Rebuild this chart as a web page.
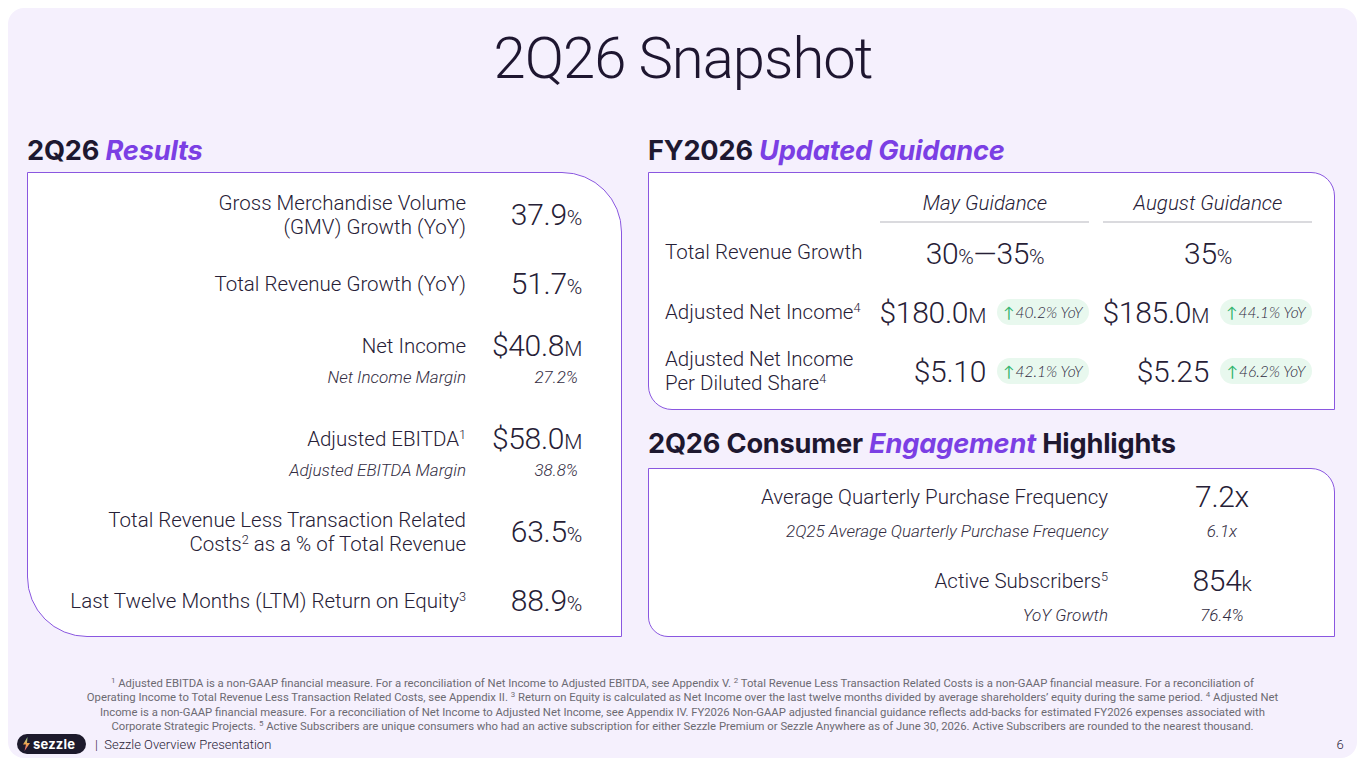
<!DOCTYPE html>
<html>
<head>
<meta charset="utf-8">
<script src="https://cdn.jsdelivr.net/npm/chart.js@4.4.1/dist/chart.umd.min.js"></script>
<style>
  html,body{margin:0;padding:0;background:#ffffff;}
  body{width:1365px;height:768px;position:relative;overflow:hidden;font-family:Roboto,"Noto Sans",sans-serif;color:#2a2438;}
  #card{position:absolute;left:8px;top:8px;width:1349px;height:750px;background:#F5F0FD;border-radius:16px;}
  .box{position:absolute;background:#ffffff;border:1.5px solid #8A57E0;box-sizing:border-box;}
  .t{position:absolute;white-space:nowrap;line-height:1;}
  .lab{font-size:20.5px;font-weight:300;color:#262036;}
  .val{font-size:30px;font-weight:300;color:#262036;letter-spacing:-0.3px;}
  .val small{font-size:21px;}
  .sub{font-size:17px;font-weight:300;font-style:italic;color:#332d42;}
  .subv{font-size:17px;font-weight:300;font-style:italic;color:#332d42;}
  .head{font-family:Inter,"Noto Sans",sans-serif;font-weight:700;font-size:27.2px;color:#1e1830;letter-spacing:-0.2px;}
  .head em{color:#7B3FE4;font-style:italic;}
  sup{font-size:0.62em;line-height:0;vertical-align:0.55em;}
  .badge{position:absolute;background:#E8F8EE;border-radius:13px;height:26px;width:92px;box-sizing:border-box;
         font-family:Lato,"Noto Sans",sans-serif;font-style:italic;font-weight:300;font-size:15.5px;color:#2e2840;
         display:flex;align-items:center;justify-content:center;transform:translateY(-50%);}
  .badge b{color:#2FB36B;font-style:normal;font-weight:400;margin-right:1px;font-size:15px;}
  .rule{position:absolute;height:1.5px;background:#DADADE;}
  .foot{position:absolute;left:0;width:1365px;text-align:center;font-size:11.3px;color:#6c6a72;line-height:14.4px;top:677px;}
  .foot sup{font-size:0.7em;}
</style>
</head>
<body>
<div id="card"></div>
<div id="layer"></div>
<script>
// ---------- DATA ----------
const title = "2Q26 Snapshot";

const resultsLabels = [
  ["Gross Merchandise Volume", "(GMV) Growth (YoY)"],
  ["Total Revenue Growth (YoY)"],
  ["Net Income"],
  ["Adjusted EBITDA<sup>1</sup>"],
  ["Total Revenue Less Transaction Related", "Costs<sup>2</sup> as a % of Total Revenue"],
  ["Last Twelve Months (LTM) Return on Equity<sup>3</sup>"]
];
const resultsValues = ["37.9", "51.7", "$40.8", "$58.0", "63.5", "88.9"];
const resultsUnits  = ["%", "%", "M", "M", "%", "%"];
const resultsSubLabels = [null, null, "Net Income Margin", "Adjusted EBITDA Margin", null, null];
const resultsSubValues = [null, null, "27.2%", "38.8%", null, null];

const guidanceColumns = ["May Guidance", "August Guidance"];
const guidanceRows = [
  ["Total Revenue Growth"],
  ["Adjusted Net Income<sup>4</sup>"],
  ["Adjusted Net Income", "Per Diluted Share<sup>4</sup>"]
];
const mayValues    = ["30<small>%</small>\u201435<small>%</small>", "$180.0<small>M</small>", "$5.10"];
const augustValues = ["35<small>%</small>", "$185.0<small>M</small>", "$5.25"];
const mayYoY    = [null, "40.2% YoY", "42.1% YoY"];
const augustYoY = [null, "44.1% YoY", "46.2% YoY"];

const engagementLabels = ["Average Quarterly Purchase Frequency", "Active Subscribers<sup>5</sup>"];
const engagementValues = ["7.2x", "854<small>k</small>"];
const engagementSubLabels = ["2Q25 Average Quarterly Purchase Frequency", "YoY Growth"];
const engagementSubValues = ["6.1x", "76.4%"];

const footnoteLines = [
  "<sup>1</sup> Adjusted EBITDA is a non-GAAP financial measure. For a reconciliation of Net Income to Adjusted EBITDA, see Appendix V. <sup>2</sup> Total Revenue Less Transaction Related Costs is a non-GAAP financial measure. For a reconciliation of",
  "Operating Income to Total Revenue Less Transaction Related Costs, see Appendix II. <sup>3</sup> Return on Equity is calculated as Net Income over the last twelve months divided by average shareholders\u2019 equity during the same period. <sup>4</sup> Adjusted Net",
  "Income is a non-GAAP financial measure. For a reconciliation of Net Income to Adjusted Net Income, see Appendix IV. FY2026 Non-GAAP adjusted financial guidance reflects add-backs for estimated FY2026 expenses associated with",
  "Corporate Strategic Projects. <sup>5</sup> Active Subscribers are unique consumers who had an active subscription for either Sezzle Premium or Sezzle Anywhere as of June 30, 2026. Active Subscribers are rounded to the nearest thousand."
];
const footerText = "Sezzle Overview Presentation";
const pageNumber = "6";

// ---------- LAYOUT ----------
const layer = document.getElementById('layer');
function el(tag, cls, html, style){
  const e = document.createElement(tag);
  if (cls) e.className = cls;
  if (html != null) e.innerHTML = html;
  Object.assign(e.style, style || {});
  layer.appendChild(e);
  return e;
}
// place text: anchor 'r' (right), 'l' (left), 'c' (center); y = vertical center
function txt(cls, html, x, y, anchor){
  const s = {top: y + 'px'};
  let tx = '0';
  if (anchor === 'r') { s.right = (1365 - x) + 'px'; }
  else if (anchor === 'c') { s.left = x + 'px'; tx = '-50%'; }
  else { s.left = x + 'px'; }
  s.transform = 'translate(' + tx + ',-50%)';
  return el('div', 't ' + cls, html, s);
}
function box(x, y, w, h, radii){
  el('div', 'box', null, {left:x+'px', top:y+'px', width:w+'px', height:h+'px', borderRadius:radii});
}

// Title
txt('', title, 683, 58, 'c').style.cssText += 'font-size:58px;font-weight:300;color:#1e1630;letter-spacing:-1px;';

// Section headings
txt('head', '2Q26 <em>Results</em>', 27, 151, 'l');
txt('head', 'FY2026 <em>Updated Guidance</em>', 648, 151, 'l');
txt('head', '2Q26 Consumer <em>Engagement</em> Highlights', 648, 444, 'l');

// Boxes
box(27, 172, 595, 465, '0 60px 0 60px');
box(648, 172, 687, 238, '0 24px 0 24px');
box(648, 468, 687, 169, '0 24px 0 20px');

// Results box
const resLabelX = 466, resValX = 582;
const resRowY = [215, 284, 346, 439, 532, 601];
const resSubY = [null, null, 377, 470, null, null];
resultsLabels.forEach((lines, i) => {
  const y = resRowY[i];
  const n = lines.length;
  lines.forEach((ln, j) => {
    txt('lab', ln, resLabelX, y + (j - (n - 1) / 2) * 24, 'r');
  });
  txt('val', resultsValues[i] + '<small>' + resultsUnits[i] + '</small>', resValX, y, 'r');
  if (resultsSubLabels[i]) {
    txt('sub', resultsSubLabels[i], resLabelX, resSubY[i], 'r');
    txt('subv', resultsSubValues[i], resValX - 4, resSubY[i], 'r');
  }
});

// Guidance box
const colCenters = [985, 1208];
const colRule = [[880, 1089], [1103, 1312]];
guidanceColumns.forEach((c, i) => {
  txt('lab', c, colCenters[i], 203, 'c').style.fontStyle = 'italic';
  el('div', 'rule', null, {left: colRule[i][0]+'px', top:'221px', width:(colRule[i][1]-colRule[i][0])+'px'});
});
const gRowY = [252, 312, 371];
guidanceRows.forEach((lines, i) => {
  const y = gRowY[i];
  const n = lines.length;
  lines.forEach((ln, j) => txt('lab', ln, 665, y + (j - (n - 1) / 2) * 24, 'l'));
  const cols = [mayValues, augustValues];
  const yoys = [mayYoY, augustYoY];
  cols.forEach((vals, k) => {
    if (yoys[k][i]) {
      txt('val', vals[i], colRule[k][0] + 106, y + 1, 'r');
      el('div', 'badge', '<b>\u2191</b>' + yoys[k][i], {left: (colRule[k][0] + 117) + 'px', top: y + 'px'});
    } else {
      txt('val', vals[i], colCenters[k], y + 2, 'c');
    }
  });
});

// Engagement box
const eLabelX = 1108, eValX = 1222;
const eRowY = [497, 581], eSubY = [531, 615];
engagementLabels.forEach((l, i) => {
  txt('lab', l, eLabelX, eRowY[i], 'r');
  txt('val', engagementValues[i], eValX, eRowY[i], 'c');
  txt('sub', engagementSubLabels[i], eLabelX, eSubY[i], 'r');
  txt('subv', engagementSubValues[i], eValX, eSubY[i], 'c');
});

// Footnotes
el('div', 'foot', footnoteLines.join('<br>'));

// Footer
const logo = el('div', null, null, {position:'absolute', left:'17px', top:'734px', width:'69px', height:'20px',
  background:'#1d1a2c', borderRadius:'10px'});
logo.innerHTML = '<svg width="69" height="20" viewBox="0 0 69 20" style="position:absolute;left:0;top:0">' +
  '<defs><linearGradient id="g" x1="0" y1="0" x2="0" y2="1"><stop offset="0" stop-color="#8BD6A0"/><stop offset="0.5" stop-color="#F2A24A"/><stop offset="1" stop-color="#E85B8A"/></linearGradient></defs>' +
  '<path d="M10.5 3 L6 10.5 L9 10.5 L7.5 17 L13 9 L10 9 Z" fill="url(#g)"/>' +
  '<text x="16" y="14.5" fill="#ffffff" font-family="Inter, Roboto, sans-serif" font-weight="700" font-size="13" letter-spacing="0.2">sezzle</text></svg>';
txt('', '|&nbsp;&nbsp;' + footerText, 95, 744, 'l').style.cssText += 'font-size:13px;font-weight:300;color:#2a2438;';
txt('', pageNumber, 1340, 744, 'c').style.cssText += 'font-size:13px;font-weight:300;color:#2a2438;';
</script>
</body>
</html>
